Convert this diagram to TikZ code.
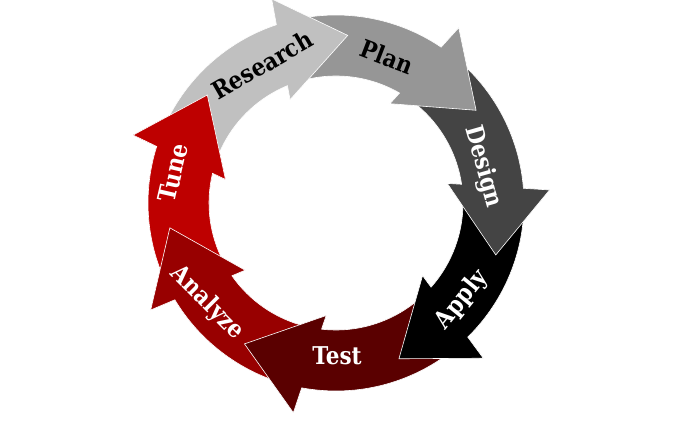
\documentclass[tikz,border=0pt]{standalone}
\usepackage{fontspec}
\newfontfamily\lblfont{DejaVu Serif}[FakeStretch=0.88]
\definecolor{cResearch}{RGB}{192,192,192}
\definecolor{cPlan}{RGB}{150,150,150}
\definecolor{cDesign}{RGB}{68,68,68}
\definecolor{cApply}{RGB}{0,0,0}
\definecolor{cTest}{RGB}{90,0,0}
\definecolor{cAnalyze}{RGB}{152,0,0}
\definecolor{cTune}{RGB}{190,0,0}
\tikzset{
  lbl/.style={font=\lblfont\bfseries\fontsize{24.5}{27}\selectfont, inner sep=0pt, anchor=center},
  arrowshape/.style={draw=white, line width=0.6pt, line join=miter}
}
% #1 tip angle, #2 tail angle, #3 colour
\newcommand\cycarrow[3]{%
  \filldraw[arrowshape, fill=#3] (#2:188) arc[start angle=#2, end angle=#1+22.49, radius=188pt]
    -- (#1+21.5:214) -- (#1:168) -- (#1+28:113) -- (#1+26.47:127)
    arc[start angle=#1+26.47, end angle=#2, radius=127pt] -- cycle;}
\begin{document}
\begin{tikzpicture}[x=1pt,y=1pt]
\useasboundingbox (0,0) rectangle (688,445);
\fill[white] (0,0) rectangle (688,445);
\coordinate (C) at (336,242);
\begin{scope}[shift={(C)}]
  \cycarrow{140}{207.5}{cTune}
  \cycarrow{-171.5}{-104}{cAnalyze}
  \cycarrow{-123}{-49}{cTest}
  \cycarrow{-68}{1}{cApply}
  \cycarrow{-18}{52.5}{cDesign}
  \cycarrow{33.5}{105}{cPlan}
  \cycarrow{86}{159}{cResearch}
  \begin{scope}
    \clip (0,0) -- (120:260) arc[start angle=120, end angle=185, radius=260pt] -- cycle;
    \cycarrow{140}{207.5}{cTune}
  \end{scope}
\end{scope}
\node[lbl, rotate=30] (research) at (262,380) {Research};
\node[lbl, rotate=-21] (plan) at (387,388) {Plan};
\node[lbl, text=white, rotate=-74] (design) at (483,278) {Design};
\node[lbl, text=white, rotate=51] (apply) at (462,145) {Apply};
\node[lbl, text=white] (test) at (337,89.5) {Test};
\node[lbl, text=white, rotate=-45] (analyze) at (207,142) {Analyze};
\node[lbl, text=white, rotate=77] (tune) at (173,272) {Tune};
\end{tikzpicture}
\end{document}
